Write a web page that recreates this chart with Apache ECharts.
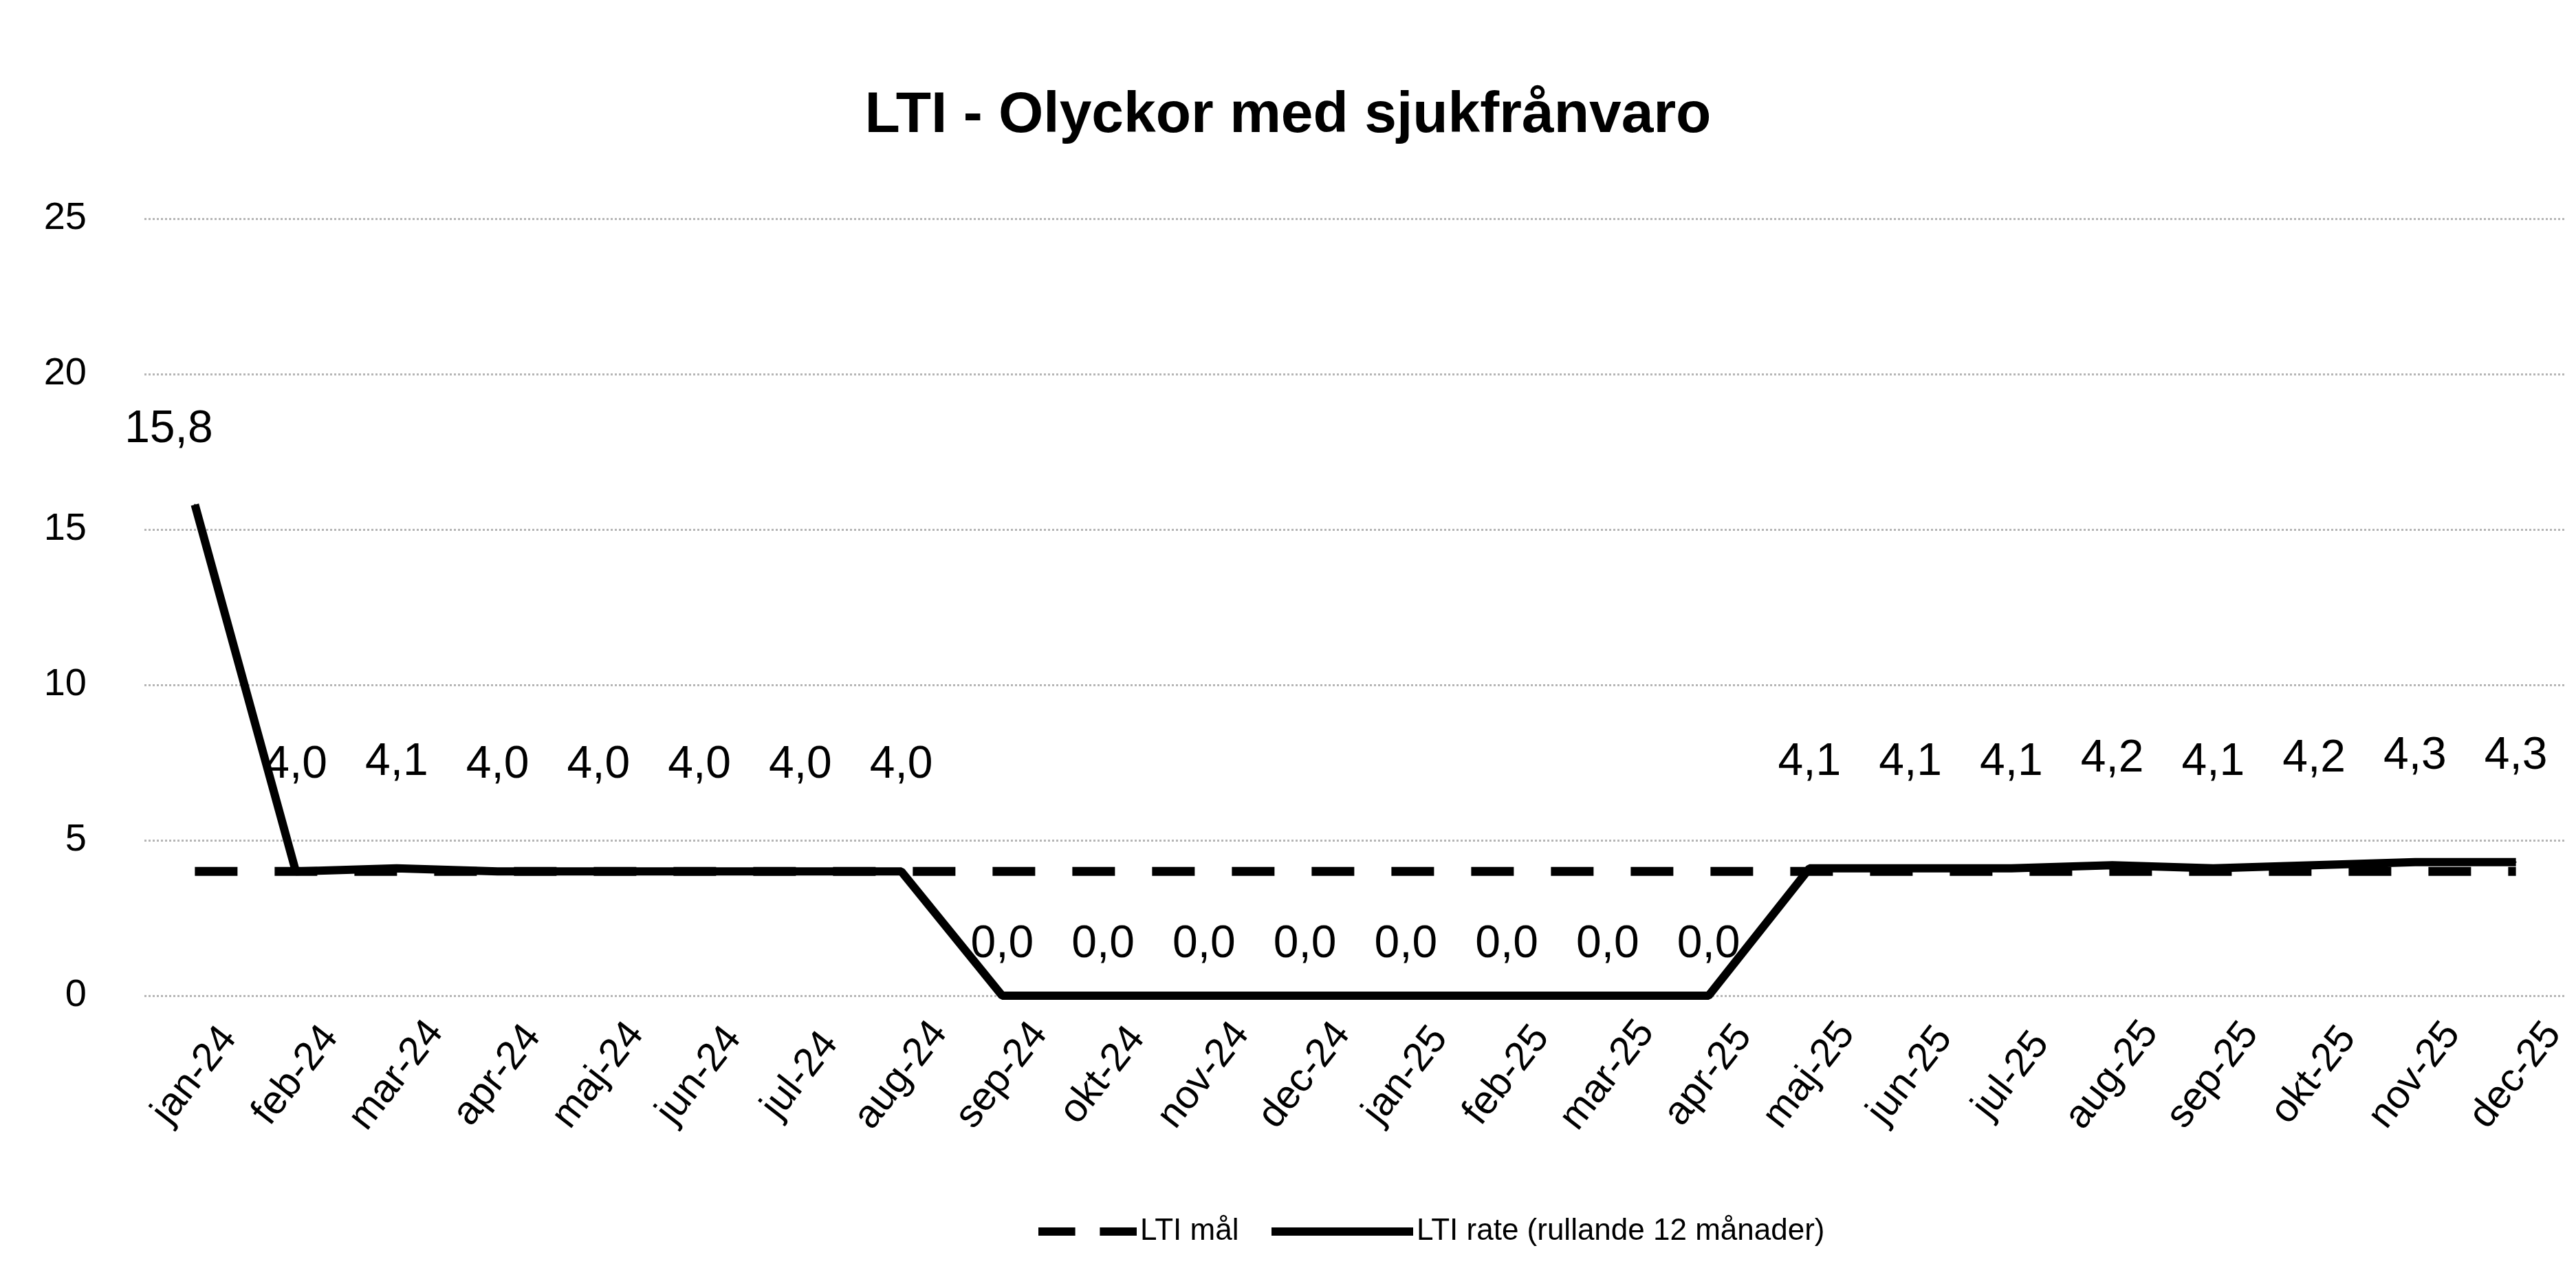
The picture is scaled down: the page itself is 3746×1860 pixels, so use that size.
<!DOCTYPE html>
<html>
<head>
<meta charset="utf-8">
<title>LTI - Olyckor med sjukfrånvaro</title>
<script src="https://cdn.jsdelivr.net/npm/echarts@6/dist/echarts.min.js"></script>
<style>
  html, body { margin: 0; padding: 0; background: #fff; }
  #chart { width: 3746px; height: 1860px; }
</style>
</head>
<body>
<div id="chart"></div>
<script>
// månader
var months = ['jan-24', 'feb-24', 'mar-24', 'apr-24', 'maj-24', 'jun-24', 'jul-24', 'aug-24',
  'sep-24', 'okt-24', 'nov-24', 'dec-24', 'jan-25', 'feb-25', 'mar-25', 'apr-25',
  'maj-25', 'jun-25', 'jul-25', 'aug-25', 'sep-25', 'okt-25', 'nov-25', 'dec-25']
// LTI mål
var ltiGoal = [4, 4, 4, 4, 4, 4, 4, 4, 4, 4, 4, 4, 4, 4, 4, 4, 4, 4, 4, 4, 4, 4, 4, 4]
// LTI rate (rullande 12 månader)
var ltiRate = [15.8, 4.0, 4.1, 4.0, 4.0, 4.0, 4.0, 4.0, 0.0, 0.0, 0.0, 0.0, 0.0, 0.0, 0.0, 0.0,
  4.1, 4.1, 4.1, 4.2, 4.1, 4.2, 4.3, 4.3]
var yTicks = [0, 5, 10, 15, 20, 25]

var font = '"Liberation Sans", Arial, sans-serif'

// etikettavstånd beroende på nivå (manuellt flyttade i originalet)
function labelFor(v) {
  if (v === 0) return { distance: 40 }
  if (v > 10) return { distance: 75, offset: [-38, 0] }
  return { distance: 120 }
}

var legendText = { fontSize: 44, color: '#000', fontFamily: font }

var chart = echarts.init(document.getElementById('chart'))
chart.setOption({
  backgroundColor: '#fff',
  animation: false,
  textStyle: { fontFamily: font },
  title: {
    text: 'LTI - Olyckor med sjukfrånvaro',
    left: 'center',
    top: 122,
    textStyle: { fontSize: 84, fontWeight: 'bold', color: '#000', fontFamily: font },
  },
  legend: [
    {
      left: 1505,
      top: 1764,
      itemWidth: 143,
      itemHeight: 12,
      symbolKeepAspect: false,
      textStyle: legendText,
      data: [{ name: 'LTI mål', icon: 'path://M0,0H60V10H0Z M100,0H160V10H100Z' }],
    },
    {
      left: 1844,
      top: 1764,
      itemWidth: 206,
      itemHeight: 12,
      symbolKeepAspect: false,
      textStyle: legendText,
      data: [{ name: 'LTI rate (rullande 12 månader)', icon: 'path://M0,0H200V10H0Z' }],
    },
  ],
  grid: { left: 210, right: 14, top: 318, bottom: 412 },
  xAxis: {
    type: 'category',
    data: months,
    boundaryGap: true,
    axisLine: { show: false },
    axisTick: { show: false },
    axisLabel: {
      rotate: 52,
      margin: 116,
      align: 'center',
      verticalAlign: 'middle',
      fontSize: 58,
      color: '#000',
      fontFamily: font,
      interval: 0,
    },
  },
  yAxis: {
    type: 'value',
    min: yTicks[0],
    max: yTicks[yTicks.length - 1],
    interval: 5,
    axisLine: { show: false },
    axisTick: { show: false },
    axisLabel: { fontSize: 56, color: '#000', margin: 84, fontFamily: font },
    splitLine: { lineStyle: { color: '#b5b5b5', type: 'dotted', width: 3 } },
  },
  series: [
    {
      name: 'LTI mål',
      type: 'line',
      data: ltiGoal,
      symbol: 'none',
      lineStyle: { color: '#000', width: 13, type: [62, 54], cap: 'butt' },
      itemStyle: { color: '#000' },
      z: 2,
    },
    {
      name: 'LTI rate (rullande 12 månader)',
      type: 'line',
      data: ltiRate.map(function (v) {
        return { value: v, label: labelFor(v) }
      }),
      symbol: 'circle',
      symbolSize: 2,
      lineStyle: { color: '#000', width: 12 },
      itemStyle: { color: '#000' },
      label: {
        show: true,
        position: 'top',
        fontSize: 66,
        color: '#000',
        fontFamily: font,
        formatter: function (p) {
          return p.value.toFixed(1).replace('.', ',')
        },
      },
      z: 3,
    },
  ],
})
</script>
</body>
</html>
